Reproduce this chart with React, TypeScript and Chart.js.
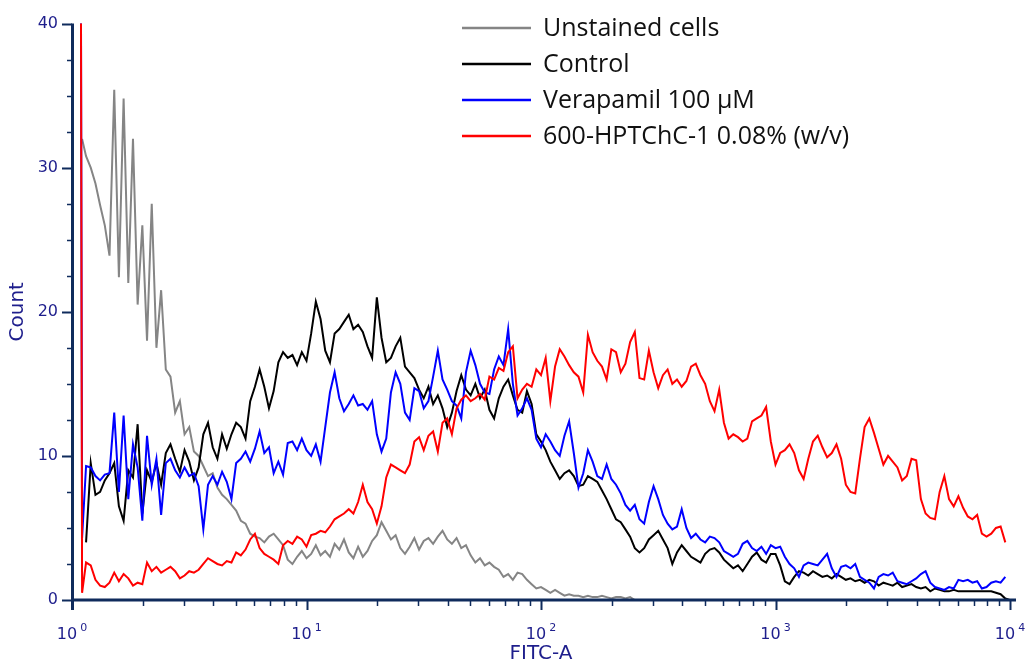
import React, { useEffect, useRef } from 'react';
import { Chart, registerables } from 'chart.js';

Chart.register(...registerables);

// FITC-A channel positions (one per histogram bin)
const channels = [
  1.09, 1.104, 1.148, 1.202, 1.259, 1.318, 1.38, 1.445, 1.514, 1.585, 1.66, 1.738, 1.82, 1.905, 1.995,
  2.089, 2.188, 2.291, 2.399, 2.512, 2.63, 2.754, 2.884, 3.02, 3.162, 3.311, 3.467, 3.631, 3.802, 3.981,
  4.169, 4.365, 4.571, 4.786, 5.012, 5.248, 5.495, 5.754, 6.026, 6.31, 6.607, 6.918, 7.244, 7.586, 7.943,
  8.318, 8.71, 9.12, 9.55,
  10, 10.47, 10.96, 11.48, 12.02, 12.59, 13.18, 13.8, 14.45, 15.14, 15.85, 16.6, 17.38, 18.2, 19.05, 19.95,
  20.89, 21.88, 22.91, 23.99, 25.12, 26.3, 27.54, 28.84, 30.2, 31.62, 33.11, 34.67, 36.31, 38.02, 39.81,
  41.69, 43.65, 45.71, 47.86, 50.12, 52.48, 54.95, 57.54, 60.26, 63.1, 66.07, 69.18, 72.44, 75.86, 79.43,
  83.18, 87.1, 91.2, 95.5,
  100, 104.7, 109.6, 114.8, 120.2, 125.9, 131.8, 138, 144.5, 151.4, 158.5, 166, 173.8, 182, 190.5, 199.5,
  208.9, 218.8, 229.1, 239.9, 251.2, 263, 275.4, 288.4, 302, 316.2, 331.1, 346.7, 363.1, 380.2, 398.1,
  416.9, 436.5, 457.1, 478.6, 501.2, 524.8, 549.5, 575.4, 602.6, 631, 660.7, 691.8, 724.4, 758.6, 794.3,
  831.8, 871, 912, 955,
  1000, 1047, 1096, 1148, 1202, 1259, 1318, 1380, 1445, 1514, 1585, 1660, 1738, 1820, 1905, 1995,
  2089, 2188, 2291, 2399, 2512, 2630, 2754, 2884, 3020, 3162, 3311, 3467, 3631, 3802, 3981,
  4169, 4365, 4571, 4786, 5012, 5248, 5495, 5754, 6026, 6310, 6607, 6918, 7244, 7586, 7943,
  8318, 8710, 9120, 9550,
  10000,
];

// Counts per channel for each sample
const unstained = [
  null, 32.0, 30.8, 30.0, 28.9, 27.4, 26.0, 23.9, 35.4, 22.4, 34.8, 22.0, 32.0, 20.5, 26.0,
  18.0, 27.5, 17.5, 21.5, 16.0, 15.5, 13.0, 13.8, 11.5, 12.0, 10.3, 10.0, 9.3, 8.6, 8.8,
  7.8, 7.3, 7.0, 6.6, 6.2, 5.5, 5.3, 4.6, 4.4, 4.3, 4.0, 4.4, 4.6, 4.2, 3.8,
  2.8, 2.5, 3.0, 3.4,
  2.9, 3.2, 3.8, 3.1, 3.4, 3.0, 3.9, 3.5, 4.2, 3.3, 2.9, 3.7, 3.0, 3.4, 4.1, 4.5,
  5.4, 4.8, 4.2, 4.5, 3.6, 3.2, 3.7, 4.3, 3.5, 4.1, 4.3, 3.9, 4.4, 4.8, 4.2,
  3.9, 4.3, 3.6, 3.8, 3.1, 2.6, 2.9, 2.4, 2.6, 2.3, 2.1, 1.6, 1.8, 1.4, 1.9,
  1.8, 1.4, 1.1, 0.8,
  0.9, 0.7, 0.5, 0.7, 0.5, 0.3, 0.4, 0.3, 0.3, 0.2, 0.3, 0.2, 0.2, 0.3, 0.2, 0.1,
  0.2, 0.2, 0.1, 0.2, 0, null, null, null, null, null, null, null, null, null, null,
  null, null, null, null, null, null, null, null, null, null, null, null, null, null, null,
  null, null, null, null,
  null, null, null, null, null, null, null, null, null, null, null, null, null, null, null, null,
  null, null, null, null, null, null, null, null, null, null, null, null, null, null, null,
  null, null, null, null, null, null, null, null, null, null, null, null, null, null, null,
  null, null, null, null,
  null,
];

const control = [
  null, null, 4.0, 9.5, 7.3, 7.5, 8.3, 8.8, 9.5, 6.5, 5.5, 9.0, 8.5, 12.2, 6.0,
  9.0, 8.2, 9.5, 8.0, 10.2, 10.8, 9.8, 8.9, 10.4, 9.6, 8.3, 9.2, 11.5, 12.3, 10.6,
  9.8, 11.5, 10.5, 11.5, 12.3, 12.0, 11.2, 13.8, 14.8, 16.0, 14.8, 13.3, 14.5, 16.5, 17.2,
  16.8, 17.0, 16.3, 17.2,
  16.6, 18.5, 20.7, 19.5, 17.3, 16.5, 18.5, 18.8, 19.3, 19.8, 18.8, 19.1, 18.6, 17.6, 16.8, 21.0,
  18.2, 16.5, 16.8, 17.6, 18.2, 16.2, 15.8, 15.4, 14.6, 14.0, 14.8, 13.6, 14.2, 13.3, 12.0,
  13.0, 14.5, 15.6, 14.6, 14.2, 15.0, 14.0, 14.6, 13.2, 12.6, 14.0, 14.8, 15.3, 14.2, 13.2,
  13.0, 14.5, 13.6, 11.5,
  11.0, 10.4, 9.6, 9.0, 8.4, 8.8, 9.0, 8.6, 7.9, 8.0, 8.6, 8.4, 8.2, 7.6, 7.0, 6.3,
  5.6, 5.4, 4.9, 4.4, 3.6, 3.3, 3.6, 4.2, 4.5, 4.8, 4.2, 3.6, 2.5, 3.3, 3.8,
  3.4, 3.0, 2.8, 2.6, 3.2, 3.5, 3.6, 3.3, 2.8, 2.5, 2.2, 2.4, 2.0, 2.5, 3.0,
  3.3, 2.8, 2.6, 3.2,
  3.2, 2.4, 1.3, 1.1, 1.6, 2.0, 1.9, 1.7, 2.0, 1.8, 1.6, 1.7, 1.5, 1.8, 1.6, 1.4,
  1.5, 1.3, 1.4, 1.2, 1.4, 1.3, 1.0, 1.2, 1.1, 1.0, 1.2, 0.9, 1.0, 1.1, 0.9,
  0.8, 0.9, 0.6, 0.8, 0.7, 0.6, 0.6, 0.7, 0.6, 0.6, 0.6, 0.6, 0.6, 0.6, 0.6,
  0.6, 0.5, 0.4, 0.1,
  0.0,
];

const verapamil = [
  48, 4.3, 9.3, 9.2, 8.6, 8.3, 8.7, 8.8, 13.0, 7.5, 12.8, 7.0, 10.8, 9.2, 5.5,
  11.4, 8.0, 9.8, 5.9, 9.5, 9.8, 9.0, 8.5, 9.2, 8.6, 8.8, 7.9, 4.9, 8.0, 8.6,
  8.0, 8.9, 8.2, 7.0, 9.5, 9.8, 10.3, 9.6, 10.5, 11.7, 10.2, 10.6, 8.8, 9.6, 8.7,
  10.9, 11.0, 10.4, 11.2,
  10.4, 10.0, 10.8, 9.6, 12.0, 14.4, 15.8, 14.0, 13.1, 13.6, 14.2, 13.5, 13.6, 13.2, 13.8, 11.5,
  10.3, 11.2, 14.4, 15.8, 15.0, 13.0, 12.5, 14.7, 14.5, 13.3, 13.8, 15.5, 17.3, 15.3, 14.6,
  13.8, 13.5, 12.6, 15.8, 17.3, 16.3, 15.0, 14.4, 14.3, 16.0, 16.9, 16.3, 18.8, 15.0, 12.8,
  13.3, 14.0, 13.2, 11.2,
  10.6, 11.5, 11.0, 10.4, 10.0, 11.4, 12.4, 10.2, 7.8, 8.8, 10.4, 9.6, 8.6, 8.4, 9.4, 8.4,
  8.0, 7.4, 6.6, 6.2, 6.6, 5.6, 5.3, 6.8, 7.9, 7.0, 5.9, 5.3, 4.9, 5.1, 6.3,
  5.0, 4.3, 4.6, 4.2, 4.0, 4.4, 4.3, 4.0, 3.4, 3.2, 3.0, 3.2, 3.9, 4.1, 3.6,
  3.4, 3.7, 3.2, 3.8,
  3.6, 3.7, 3.0, 2.5, 2.2, 1.6, 2.4, 2.6, 2.5, 2.4, 2.8, 3.2, 2.2, 1.6, 2.3, 2.4,
  2.2, 2.5, 1.6, 1.4, 1.2, 0.8, 1.6, 1.8, 1.7, 1.9, 1.3, 1.2, 1.1, 1.3, 1.5,
  1.8, 2.0, 1.2, 0.9, 0.8, 0.7, 0.9, 0.8, 1.4, 1.3, 1.4, 1.2, 1.3, 0.8, 0.9,
  1.2, 1.3, 1.2, 1.6,
  null,
];

const hptchc = [
  48, 0.5, 2.6, 2.4, 1.4, 1.0, 0.9, 1.2, 1.9, 1.3, 1.8, 1.5, 1.0, 1.2, 1.1,
  2.6, 2.0, 2.3, 1.9, 2.1, 2.3, 2.0, 1.5, 1.7, 2.0, 1.9, 2.1, 2.5, 2.9, 2.7,
  2.5, 2.4, 2.7, 2.6, 3.3, 3.1, 3.5, 4.2, 4.6, 3.6, 3.2, 3.0, 2.8, 2.5, 3.8,
  4.1, 3.9, 4.4, 4.2,
  3.7, 4.5, 4.6, 4.8, 4.7, 5.1, 5.6, 5.8, 6.0, 6.3, 6.0, 6.8, 8.0, 6.8, 6.3, 5.3,
  6.5, 8.5, 9.4, 9.2, 9.0, 8.8, 9.4, 11.0, 11.3, 10.4, 11.4, 11.7, 10.3, 12.3, 12.6,
  11.5, 13.3, 13.9, 14.2, 13.8, 14.0, 14.3, 13.9, 15.5, 15.3, 16.1, 15.9, 17.2, 17.6, 14.0,
  14.6, 15.0, 14.8, 16.0,
  15.6, 16.8, 13.8, 16.2, 17.4, 16.9, 16.3, 15.8, 15.5, 14.4, 18.4, 17.2, 16.6, 16.2, 15.3, 17.4,
  17.2, 15.8, 16.4, 17.9, 18.6, 15.4, 15.3, 17.3, 15.8, 14.7, 15.6, 16.0, 15.0, 15.3, 14.8,
  15.2, 16.2, 16.4, 15.6, 15.0, 13.8, 13.1, 14.6, 12.3, 11.2, 11.5, 11.3, 11.0, 11.2, 12.4,
  12.6, 12.8, 13.4, 11.0,
  9.4, 10.2, 10.4, 10.8, 10.2, 9.0, 8.4, 9.8, 11.0, 11.4, 10.6, 9.9, 10.2, 10.8, 9.8, 8.0,
  7.5, 7.4, 9.8, 12.0, 12.6, 11.6, 10.5, 9.4, 10.0, 9.6, 9.2, 8.3, 8.6, 9.8, 9.7,
  7.0, 6.0, 5.7, 5.6, 7.5, 8.6, 7.0, 6.5, 7.2, 6.4, 5.8, 5.6, 5.9, 4.6, 4.4,
  4.6, 5.0, 5.1, 4.0,
  null,
];

const seriesLabels = ['Unstained cells', 'Control', 'Verapamil 100 μM', '600-HPTChC-1 0.08% (w/v)'];
const seriesColors = ['#858585', '#000000', '#0000ff', '#ff0000'];
const seriesValues = [unstained, control, verapamil, hptchc];

const yMajorTicks = [0, 10, 20, 30, 40];
const xDecades = [0, 1, 2, 3, 4];

const AXIS_COLOR = '#0f2b5c';
const LABEL_COLOR = '#1e1e8c';
const AXIS_FONT = "'DejaVu Sans', Verdana, sans-serif";
const LEGEND_FONT = "'Open Sans', 'Noto Sans', sans-serif";

// Axis lines, tick marks, power-of-ten labels and the legend block
const decorPlugin = {
  id: 'histDecor',
  afterDatasetsDraw(chart: any) {
    const { ctx, chartArea: a, scales } = chart;
    const xs = scales.x;
    const ys = scales.y;
    ctx.save();
    ctx.strokeStyle = AXIS_COLOR;
    ctx.lineCap = 'butt';

    // y axis ticks (major every 10, minor every 2.5)
    for (let v = 0; v <= 40; v += 2.5) {
      const py = Math.round(ys.getPixelForValue(v)) + 0.5;
      const major = v % 10 === 0;
      ctx.lineWidth = major ? 2 : 1.5;
      ctx.beginPath();
      ctx.moveTo(a.left - (major ? 10 : 5), py);
      ctx.lineTo(a.left, py);
      ctx.stroke();
    }

    // x axis ticks (decades long, in-between short)
    xDecades.forEach((k) => {
      const px = Math.round(xs.getPixelForValue(Math.pow(10, k))) + 0.5;
      ctx.lineWidth = 2;
      ctx.beginPath();
      ctx.moveTo(px, a.bottom);
      ctx.lineTo(px, a.bottom + 10);
      ctx.stroke();
      if (k < 4) {
        for (let m = 2; m <= 9; m++) {
          const mx = Math.round(xs.getPixelForValue(m * Math.pow(10, k))) + 0.5;
          ctx.lineWidth = 1.5;
          ctx.beginPath();
          ctx.moveTo(mx, a.bottom);
          ctx.lineTo(mx, a.bottom + 6);
          ctx.stroke();
        }
      }
    });

    // axis lines
    ctx.lineWidth = 3;
    ctx.beginPath();
    ctx.moveTo(a.left + 0.5, a.top);
    ctx.lineTo(a.left + 0.5, a.bottom + 10);
    ctx.stroke();
    ctx.beginPath();
    ctx.moveTo(a.left - 1, a.bottom);
    ctx.lineTo(a.right + 6, a.bottom);
    ctx.stroke();

    // decade labels: "10" with a raised exponent
    ctx.fillStyle = LABEL_COLOR;
    ctx.textBaseline = 'alphabetic';
    ctx.textAlign = 'left';
    xDecades.forEach((k) => {
      const px = xs.getPixelForValue(Math.pow(10, k));
      ctx.font = `16px ${AXIS_FONT}`;
      const base = '10';
      const wb = ctx.measureText(base).width;
      ctx.font = `11px ${AXIS_FONT}`;
      const exp = String(k);
      const we = ctx.measureText(exp).width;
      const gap = 3;
      const x0 = px - (wb + gap + we) / 2;
      ctx.font = `16px ${AXIS_FONT}`;
      ctx.fillText(base, x0, a.bottom + 39);
      ctx.font = `11px ${AXIS_FONT}`;
      ctx.fillText(exp, x0 + wb + gap, a.bottom + 31);
    });

    // legend
    const rowY = [28, 64, 100, 136];
    ctx.font = `25px ${LEGEND_FONT}`;
    ctx.textBaseline = 'middle';
    seriesLabels.forEach((label, i) => {
      ctx.strokeStyle = seriesColors[i];
      ctx.lineWidth = 2.5;
      ctx.beginPath();
      ctx.moveTo(462, rowY[i]);
      ctx.lineTo(531, rowY[i]);
      ctx.stroke();
      ctx.fillStyle = '#111111';
      ctx.fillText(label, 543, rowY[i] + 1);
    });
    ctx.restore();
  },
};

export default function App() {
  const canvasRef = useRef<HTMLCanvasElement | null>(null);

  useEffect(() => {
    if (!canvasRef.current) return;
    const datasets = seriesValues.map((vals, i) => ({
      label: seriesLabels[i],
      data: channels.map((c, j) => ({ x: c, y: vals[j] })),
      borderColor: seriesColors[i],
      backgroundColor: seriesColors[i],
      borderWidth: 2,
      pointRadius: 0,
      tension: 0,
      fill: false,
      order: 4 - i,
    }));

    const chart = new Chart(canvasRef.current, {
      type: 'line',
      data: { datasets },
      options: {
        animation: false,
        responsive: false,
        devicePixelRatio: 1,
        layout: { padding: { top: 20, right: 21, bottom: 0, left: 0 } },
        plugins: { legend: { display: false }, tooltip: { enabled: false } },
        scales: {
          x: {
            type: 'logarithmic',
            min: 1,
            max: 10000,
            grid: { display: false, drawTicks: false },
            border: { display: false },
            ticks: { display: false },
            title: {
              display: true,
              text: 'FITC-A',
              color: LABEL_COLOR,
              font: { family: AXIS_FONT, size: 20 },
              padding: 0,
            },
            afterFit: (s: any) => {
              s.height = 66;
            },
          },
          y: {
            type: 'linear',
            min: 0,
            max: 40,
            grid: { display: false, drawTicks: false },
            border: { display: false },
            ticks: {
              stepSize: 10,
              color: LABEL_COLOR,
              font: { family: AXIS_FONT, size: 16 },
              padding: 14,
              callback: (v: any) => (yMajorTicks.includes(Number(v)) ? String(v) : ''),
            },
            title: {
              display: true,
              text: 'Count',
              color: LABEL_COLOR,
              font: { family: AXIS_FONT, size: 20 },
              padding: { top: 6, bottom: 0 },
            },
            afterFit: (s: any) => {
              s.width = 72;
            },
          },
        },
      },
      plugins: [decorPlugin],
    });
    return () => chart.destroy();
  }, []);

  return (
    <div style={{ position: 'fixed', left: 0, top: 0, width: 1031, height: 666, background: '#ffffff' }}>
      <canvas ref={canvasRef} width={1031} height={666} />
    </div>
  );
}
